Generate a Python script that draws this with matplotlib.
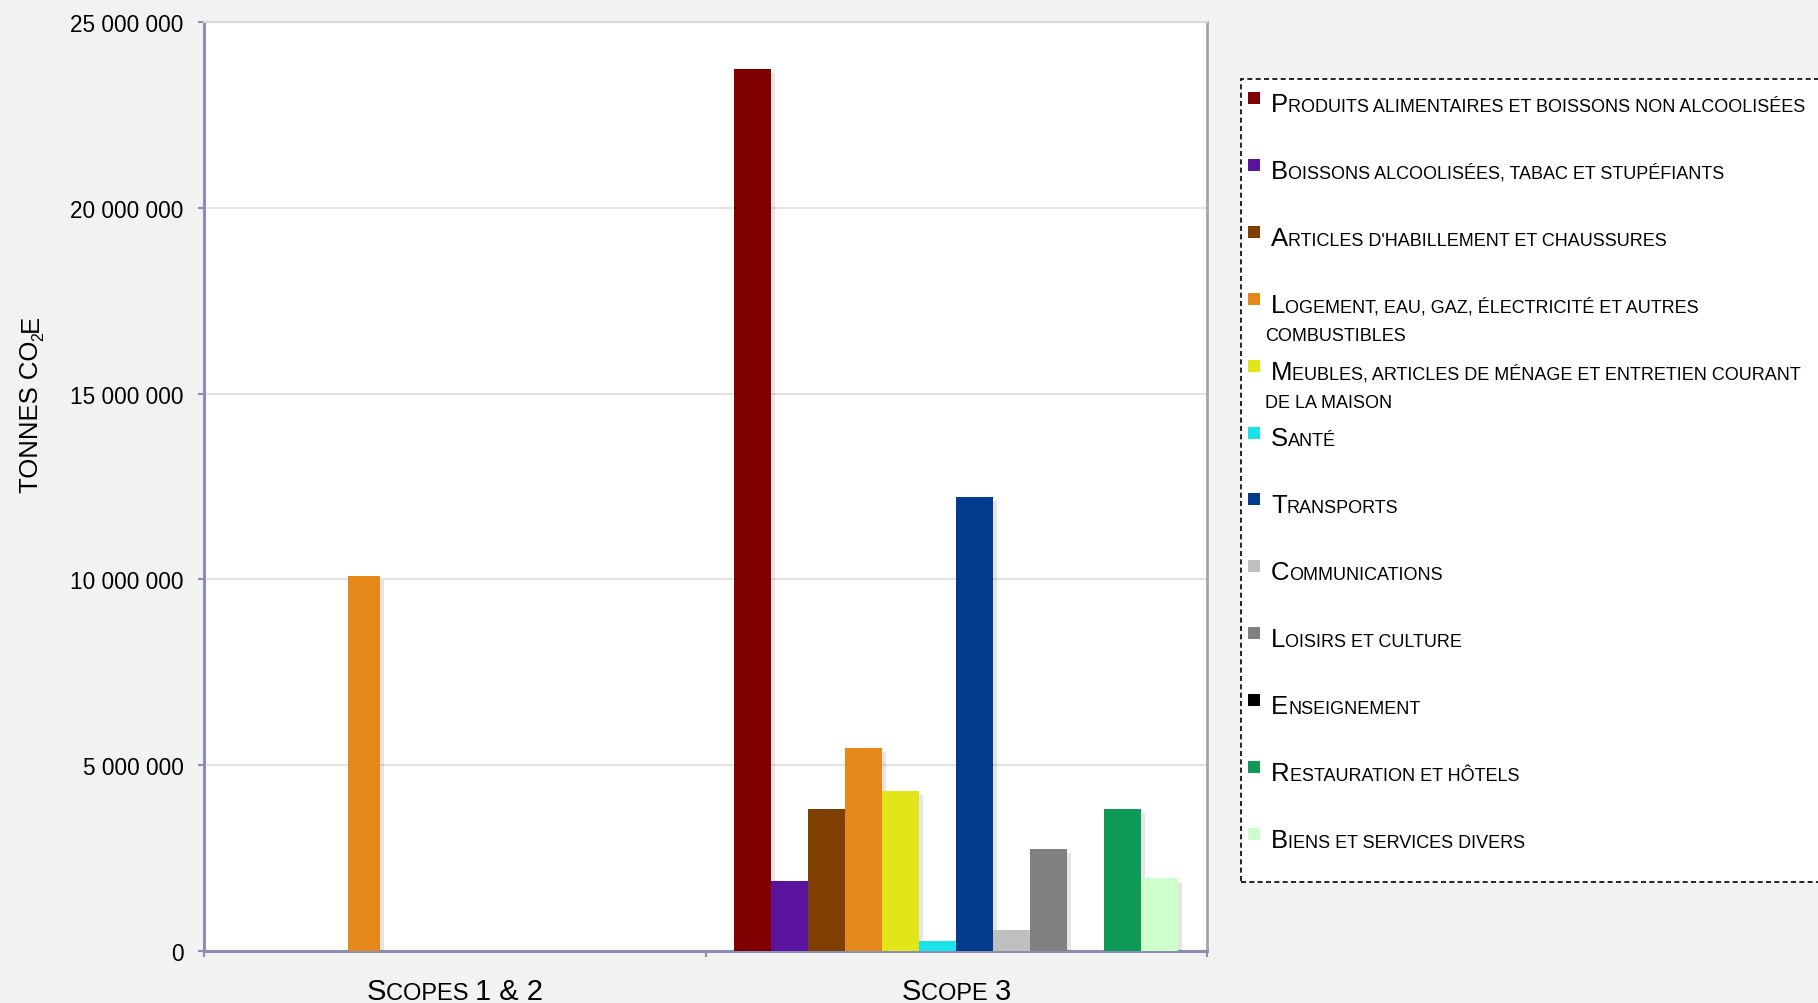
import matplotlib
matplotlib.use("Agg")
import matplotlib.pyplot as plt
import matplotlib.patheffects as pe
from matplotlib.patches import Rectangle
from matplotlib.transforms import IdentityTransform
from matplotlib.ticker import FuncFormatter

# données
categories = ["Scopes 1 & 2", "Scope 3"]
series = [
    "Produits alimentaires et boissons non alcoolisées",
    "Boissons alcoolisées, tabac et stupéfiants",
    "Articles d'habillement et chaussures",
    "Logement, eau, gaz, électricité et autres\ncombustibles",
    "Meubles, articles de ménage et entretien courant\nde la maison",
    "Santé",
    "Transports",
    "Communications",
    "Loisirs et culture",
    "Enseignement",
    "Restauration et hôtels",
    "Biens et services divers",
]
colors = [
    "#800000", "#5a139c", "#7f3f00", "#e6871a", "#e2e619", "#1ae2e8",
    "#023a8e", "#bfbfbf", "#808080", "#000000", "#0f9a5a", "#ccffcc",
]
scope12_values = [0, 0, 0, 10_100_000, 0, 0, 0, 0, 0, 0, 0, 0]
scope3_values = [
    23_730_000, 1_880_000, 3_820_000, 5_460_000, 4_300_000, 270_000,
    12_210_000, 560_000, 2_740_000, 0, 3_820_000, 1_960_000,
]
yticks = [0, 5_000_000, 10_000_000, 15_000_000, 20_000_000, 25_000_000]
ylabel = "Tonnes CO"

FONT = ["Liberation Sans Narrow", "Liberation Sans", "DejaVu Sans"]
W, H = 1818, 1004
AXIS_COL = "#8a90b2"

fig = plt.figure(figsize=(W / 100, H / 100), dpi=100, facecolor="#f2f2f2")
ax = fig.add_axes([204 / W, 1 - 952 / H, (1207 - 204) / W, (952 - 23) / H])
ax.set_facecolor("white")

bar_w = 0.0738
shadow = [pe.SimplePatchShadow(offset=(3, -3), shadow_rgbFace="k", alpha=0.1), pe.Normal()]
n = len(series)
for i, (val, color) in enumerate(zip(scope3_values, colors)):
    x = 1 + (i - (n - 1) / 2) * bar_w
    ax.bar(x, val, bar_w, color=color, path_effects=shadow, zorder=3)
# scopes 1 & 2 : une seule barre non nulle, placée à gauche du centre
for i, (val, color) in enumerate(zip(scope12_values, colors)):
    if val > 0:
        ax.bar(-0.181, val, 0.064, color=color, path_effects=shadow, zorder=3)

ax.set_xlim(-0.5, 1.5)
ax.set_ylim(0, 25_000_000)
ax.set_yticks(yticks)
ax.yaxis.set_major_formatter(FuncFormatter(lambda v, p: f"{v:,.0f}".replace(",", " ")))
ax.set_xticks([-0.5, 0.5, 1.5])
ax.set_xticklabels([])
ax.tick_params(axis="both", direction="out", length=4.3, width=1.5, color=AXIS_COL)
ax.tick_params(axis="y", pad=10.5, labelsize=16.3)
for lab in ax.get_yticklabels():
    lab.set_family(FONT)
ax.yaxis.grid(True, color="#e3e3e3", lw=1.5)
ax.set_axisbelow(True)
for s in ("left", "bottom"):
    ax.spines[s].set_color(AXIS_COL)
    ax.spines[s].set_linewidth(2.2)
ax.spines["top"].set_color("#d9d9d9")
ax.spines["top"].set_linewidth(1.5)
ax.spines["right"].set_color("#a6a6a6")
ax.spines["right"].set_linewidth(2)

renderer = fig.canvas.get_renderer()
_bar_cache = {}


def text_width(s, size):
    t = fig.text(0, 0, "|" + s + "|", fontsize=size, family=FONT)
    w = t.get_window_extent(renderer).width
    t.remove()
    if size not in _bar_cache:
        t = fig.text(0, 0, "||", fontsize=size, family=FONT)
        _bar_cache[size] = t.get_window_extent(renderer).width
        t.remove()
    return w - _bar_cache[size]


def caps(s, big, small):
    # petites capitales : minuscules -> majuscules plus petites
    runs = []
    for ch in s:
        if ch.isalpha():
            sz = small if ch.islower() else big
        elif ch.isdigit():
            sz = big
        else:
            sz = runs[-1][1] if runs else big
        if runs and runs[-1][1] == sz:
            runs[-1][0] += ch.upper()
        else:
            runs.append([ch.upper(), sz, 0])
    return runs


def draw_runs(x, y, runs, ha="left", rotation=0):
    widths = [text_width(t, s) for t, s, _ in runs]
    pos = -sum(widths) / 2 if ha == "center" else 0
    for (t, s, shift), w in zip(runs, widths):
        if rotation == 90:
            px, py = x + shift, y + pos
        else:
            px, py = x + pos, y - shift
        fig.text(px, py, t, fontsize=s, family=FONT, rotation=rotation,
                 rotation_mode="anchor", ha="left", va="baseline",
                 transform=IdentityTransform(), color="black")
        pos += w


# étiquettes de catégories
for i, cat in enumerate(categories):
    cx = ax.transData.transform((i, 0))[0]
    draw_runs(cx, 4, caps(cat, 21, 17), ha="center")

# titre de l'axe y
draw_runs(38, H - 493, caps(ylabel, 18.5, 18.5) + [["2", 11.5, 5]] + caps("E", 18.5, 18.5),
          rotation=90)

# légende
fig.add_artist(Rectangle((1241, H - 883), 600, 803, transform=IdentityTransform(),
                         facecolor="white", edgecolor="black", lw=1.2,
                         linestyle=(0, (3, 2))))
for i, (name, color) in enumerate(zip(series, colors)):
    yc = H - (99 + i * 66.9)
    fig.add_artist(Rectangle((1248, yc - 6), 12, 12, transform=IdentityTransform(),
                             facecolor=color, edgecolor="none"))
    for j, line in enumerate(name.split("\n")):
        draw_runs(1271 - 6 * j, yc - 13 - 28 * j, caps(line, 18.5, 13))

fig.savefig("out.png", dpi=100, facecolor=fig.get_facecolor())
